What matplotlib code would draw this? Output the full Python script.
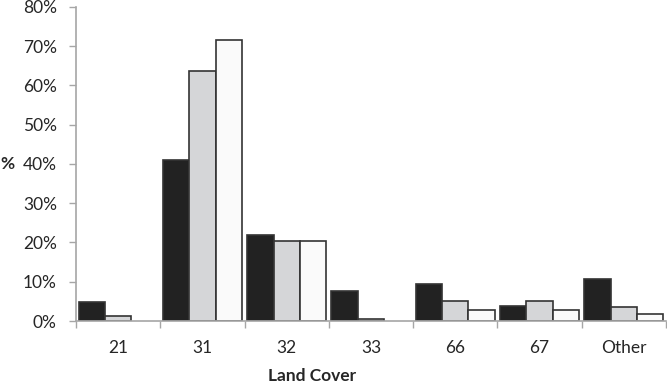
import matplotlib.pyplot as plt
import numpy as np
from matplotlib.ticker import FixedLocator, FuncFormatter

plt.rcParams['font.family'] = ['Lato', 'DejaVu Sans']

# land cover categories and the three series (percent)
categories = ['21', '31', '32', '33', '66', '67', 'Other']
series_a = [4.9, 40.9, 21.9, 7.6, 9.5, 3.8, 10.7]
series_b = [1.2, 63.6, 20.4, 0.5, 5.2, 5.1, 3.6]
series_c = [0.0, 71.7, 20.4, 0.0, 2.9, 2.8, 1.9]

fills = ['#222222', '#d5d6d8', '#fafafa']
edge = '#333333'
axis_grey = '#a6a6a6'
text_col = '#262626'

fig = plt.figure(figsize=(6.67, 3.84), dpi=100)
ax = fig.add_axes([0.114, 0.164, 0.8845, 0.818])

x = np.arange(len(categories))
w = 0.313
for i, (vals, fc) in enumerate(zip([series_a, series_b, series_c], fills)):
    h = [v if v > 0 else np.nan for v in vals]
    ax.bar(x + (i - 1) * w, h, width=w, color=fc, edgecolor=edge, linewidth=1.2)

ax.set_xlim(-0.5, len(categories) - 0.5)
ax.set_ylim(0, 80)
ax.set_yticks(np.arange(0, 81, 10))
ax.yaxis.set_major_formatter(FuncFormatter(lambda v, p: f'{int(v)}%'))

# boundaries as major ticks, labels on minor ticks at centres
ax.xaxis.set_major_locator(FixedLocator(np.arange(-0.5, len(categories), 1.0)))
ax.xaxis.set_major_formatter(FuncFormatter(lambda v, p: ''))
ax.xaxis.set_minor_locator(FixedLocator(x))
ax.set_xticklabels(categories, minor=True)
ax.tick_params(axis='x', which='major', length=5, width=1, color=axis_grey)
ax.tick_params(axis='x', which='minor', length=0, pad=14, labelsize=12.5, labelcolor=text_col)
ax.tick_params(axis='y', length=5, width=1, color=axis_grey, labelsize=12.5,
               labelcolor=text_col, pad=8.8)

for s in ['top', 'right']:
    ax.spines[s].set_visible(False)
for s in ['left', 'bottom']:
    ax.spines[s].set_color(axis_grey)
    ax.spines[s].set_linewidth(1.2)

ax.set_xlabel('Land Cover', fontsize=12.5, fontweight='bold', color=text_col, va='center')
ax.xaxis.set_label_coords(0.4, -0.175)
ax.set_ylabel('%', fontsize=12.5, fontweight='bold', color=text_col, rotation=0,
              ha='left', va='center')
ax.yaxis.set_label_coords(-0.129, 0.5)

fig.savefig('out.png', dpi=100)
